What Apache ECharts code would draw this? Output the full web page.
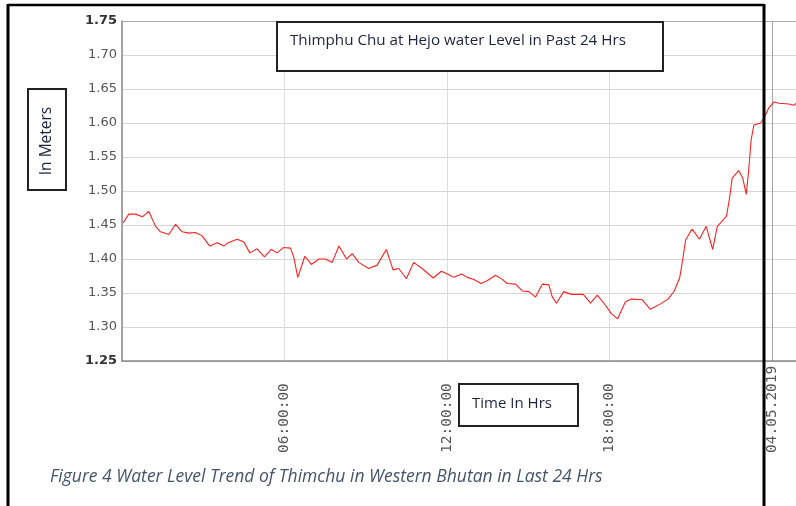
<!DOCTYPE html>
<html>
<head>
<meta charset="utf-8">
<script src="https://cdn.jsdelivr.net/npm/echarts@6/dist/echarts.min.js"></script>
<style>
  html, body { margin: 0; padding: 0; background: #fff; overflow: hidden; }
  #chart { width: 796px; height: 506px; }
</style>
</head>
<body>
<div id="chart"></div>
<script>
// hours since 00:00 on 03.05.2019
const hours = [
  0.04, 0.25, 0.50, 0.75, 0.99, 1.24, 1.42, 1.73, 1.98, 2.22, 2.47, 2.71, 2.96, 3.24, 3.52, 3.76, 3.88,
  4.25, 4.50, 4.72, 4.99, 5.26, 5.51, 5.73, 5.97, 6.22, 6.34, 6.49, 6.75, 6.99, 7.27, 7.51, 7.76, 8.01,
  8.29, 8.50, 8.74, 9.11, 9.42, 9.76, 10.01, 10.22, 10.50, 10.77, 11.08, 11.49, 11.79, 12.02, 12.25,
  12.54, 12.75, 12.99, 13.26, 13.48, 13.79, 14.04, 14.22, 14.53, 14.78, 15.02, 15.27, 15.52, 15.76,
  15.88, 16.04, 16.31, 16.59, 17.03, 17.30, 17.55, 17.85, 18.06, 18.30, 18.48, 18.59, 18.81, 19.21,
  19.51, 19.88, 20.16, 20.39, 20.59, 20.69, 20.81, 21.05, 21.32, 21.57, 21.81, 21.98, 22.10, 22.32,
  22.43, 22.53, 22.77, 22.92, 23.05, 23.14, 23.23, 23.33, 23.58, 23.70, 23.88, 24.07, 24.25, 24.62,
  24.81, 24.91, 25.20
];
const levels = [
  1.453, 1.466, 1.466, 1.462, 1.470, 1.448, 1.440, 1.436, 1.451, 1.440, 1.438, 1.439, 1.434, 1.419, 1.424, 1.419, 1.423,
  1.429, 1.425, 1.409, 1.415, 1.403, 1.414, 1.409, 1.417, 1.416, 1.403, 1.373, 1.404, 1.392, 1.400, 1.400, 1.395, 1.419,
  1.400, 1.408, 1.395, 1.386, 1.391, 1.414, 1.384, 1.386, 1.371, 1.395, 1.386, 1.372, 1.382, 1.378, 1.373,
  1.378, 1.373, 1.370, 1.364, 1.368, 1.376, 1.370, 1.364, 1.363, 1.353, 1.352, 1.344, 1.363, 1.362,
  1.345, 1.335, 1.352, 1.348, 1.348, 1.335, 1.347, 1.332, 1.320, 1.312, 1.328, 1.337, 1.341, 1.340,
  1.326, 1.334, 1.341, 1.353, 1.372, 1.396, 1.428, 1.444, 1.429, 1.448, 1.414, 1.448, 1.453, 1.463,
  1.489, 1.519, 1.530, 1.519, 1.495, 1.531, 1.575, 1.597, 1.600, 1.607, 1.622, 1.631, 1.629, 1.628,
  1.626, 1.630, 1.628
];
const xTicks = { 6: '06:00:00', 12: '12:00:00', 18: '18:00:00', 24: '04.05.2019' };
const chartTitle = 'Thimphu Chu at Hejo water Level in Past 24 Hrs';
const yTitle = 'In Meters';
const xTitle = 'Time In Hrs';
const caption = 'Figure 4 Water Level Trend of Thimchu in Western Bhutan in Last 24 Hrs';

const chart = echarts.init(document.getElementById('chart'), null, { renderer: 'canvas' });

// darker lines at the plot top and at the day change
const ySplit = ['#bbb', '#d6d6d6', '#d6d6d6', '#d6d6d6', '#d6d6d6', '#d6d6d6', '#d6d6d6', '#d6d6d6', '#d6d6d6', '#d6d6d6', '#aaa'];
const xSplit = ['#ddd', '#ddd', '#ddd', '#ddd', '#a6a6a6', '#ddd'];

chart.setOption({
  animation: false,
  backgroundColor: '#fff',
  grid: { left: 122, top: 21, height: 340, width: 812.5, outerBoundsMode: 'none' },
  xAxis: {
    type: 'value',
    min: 0,
    max: 30,
    interval: 6,
    axisLine: { show: true, lineStyle: { color: '#8a8a8a', width: 1.5 } },
    axisTick: { show: false },
    splitLine: { show: true, lineStyle: { color: xSplit, width: 1 } },
    axisLabel: {
      rotate: 90,
      margin: 92,
      align: 'left',
      fontFamily: 'DejaVu Sans Mono',
      fontSize: 14.5,
      color: '#555',
      formatter: v => xTicks[v] || ''
    }
  },
  yAxis: {
    type: 'value',
    min: 1.25,
    max: 1.75,
    interval: 0.05,
    axisLine: { show: true, lineStyle: { color: '#8a8a8a', width: 1.5 } },
    axisTick: { show: false },
    splitLine: { show: true, lineStyle: { color: ySplit, width: 1.2 } },
    axisLabel: {
      margin: 5,
      fontFamily: 'DejaVu Sans',
      fontSize: 13,
      color: '#555',
      formatter: v => (Math.abs(v - 1.25) < 1e-6 || Math.abs(v - 1.75) < 1e-6) ? '{b|' + v.toFixed(2) + '}' : v.toFixed(2),
      rich: { b: { fontFamily: 'DejaVu Sans', fontSize: 13, fontWeight: 'bold', color: '#333' } }
    }
  },
  series: [{
    type: 'line',
    data: hours.map((h, i) => [h, levels[i]]),
    showSymbol: false,
    smooth: false,
    lineStyle: { color: '#ff2020', width: 1.1 }
  }],
  graphic: [
    { type: 'rect', z: 100, shape: { x: 277, y: 22, width: 386, height: 49 }, style: { fill: '#fff', stroke: '#222', lineWidth: 2 } },
    { type: 'text', z: 101, x: 290, y: 41, style: { text: chartTitle, fontFamily: 'Open Sans', fontSize: 15.2, fill: '#1c2340', verticalAlign: 'middle' } },
    { type: 'rect', z: 100, shape: { x: 28, y: 89, width: 38, height: 101 }, style: { fill: '#fff', stroke: '#222', lineWidth: 2 } },
    { type: 'text', z: 101, x: 47, y: 141, rotation: Math.PI / 2, style: { text: yTitle, fontFamily: 'Open Sans', fontSize: 15.5, fill: '#1c2340', align: 'center', verticalAlign: 'middle' } },
    { type: 'rect', z: 100, shape: { x: 459, y: 384, width: 119, height: 42 }, style: { fill: '#fff', stroke: '#222', lineWidth: 2 } },
    { type: 'text', z: 101, x: 512, y: 404, style: { text: xTitle, fontFamily: 'Open Sans', fontSize: 15, fill: '#1c2340', align: 'center', verticalAlign: 'middle' } },
    { type: 'text', z: 101, x: 50, y: 477, style: { text: caption, fontFamily: 'Open Sans', fontStyle: 'italic', fontSize: 17.5, fill: '#44546a', verticalAlign: 'middle' } },
    { type: 'line', z: 110, shape: { x1: 8, y1: 5, x2: 764, y2: 5 }, style: { stroke: '#000', lineWidth: 2.5 } },
    { type: 'line', z: 110, shape: { x1: 8, y1: 4, x2: 8, y2: 506 }, style: { stroke: '#000', lineWidth: 3 } },
    { type: 'line', z: 110, shape: { x1: 764, y1: 4, x2: 764, y2: 506 }, style: { stroke: '#000', lineWidth: 3 } }
  ]
});
</script>
</body>
</html>
